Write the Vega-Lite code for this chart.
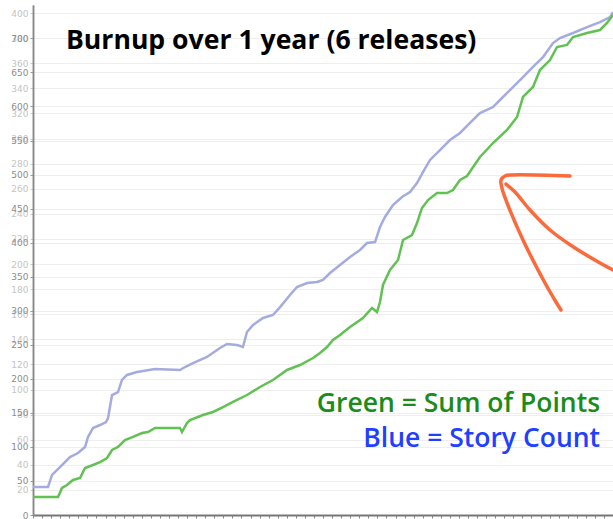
{
  "$schema": "https://vega.github.io/schema/vega-lite/v6.json",
  "width": 580,
  "height": 510,
  "autosize": {"type": "none"},
  "padding": {"left": 33, "top": 5, "right": 0, "bottom": 4},
  "background": "white",
  "config": {"view": {"stroke": null}},
  "datasets": {
    "blue": [
      {"week": 0, "stories": 22.3}, {"week": 1.66, "stories": 22.3}, {"week": 2.1, "stories": 31.9}, {"week": 2.98, "stories": 38.2},
      {"week": 4.08, "stories": 46.2}, {"week": 4.97, "stories": 49.4}, {"week": 5.74, "stories": 54.2}, {"week": 6.07, "stories": 62.2},
      {"week": 6.62, "stories": 69.3}, {"week": 7.39, "stories": 71.7}, {"week": 8.06, "stories": 74.1}, {"week": 8.28, "stories": 77.3},
      {"week": 8.72, "stories": 95.6}, {"week": 9.38, "stories": 98.0}, {"week": 9.82, "stories": 107.6}, {"week": 10.37, "stories": 111.6},
      {"week": 11.48, "stories": 113.9}, {"week": 13.46, "stories": 116.3}, {"week": 16.22, "stories": 115.5}, {"week": 16.77, "stories": 117.9},
      {"week": 17.66, "stories": 121.1}, {"week": 19.2, "stories": 125.9}, {"week": 20.63, "stories": 133.1}, {"week": 21.41, "stories": 136.3},
      {"week": 22.51, "stories": 135.5}, {"week": 23.17, "stories": 133.9}, {"week": 23.61, "stories": 145.8}, {"week": 24.28, "stories": 151.4},
      {"week": 25.38, "stories": 157.0}, {"week": 26.48, "stories": 159.4}, {"week": 27.26, "stories": 165.7}, {"week": 28.36, "stories": 175.3},
      {"week": 29.13, "stories": 181.7}, {"week": 30.24, "stories": 184.9}, {"week": 31.34, "stories": 185.7}, {"week": 32.0, "stories": 187.3},
      {"week": 32.77, "stories": 192.8}, {"week": 33.88, "stories": 199.2}, {"week": 34.98, "stories": 205.6}, {"week": 36.08, "stories": 211.2},
      {"week": 36.86, "stories": 216.7}, {"week": 37.74, "stories": 217.5}, {"week": 38.29, "stories": 229.5}, {"week": 38.84, "stories": 237.5},
      {"week": 39.72, "stories": 247.0}, {"week": 40.72, "stories": 253.4}, {"week": 41.6, "stories": 257.4}, {"week": 42.37, "stories": 264.5},
      {"week": 43.03, "stories": 273.3}, {"week": 43.81, "stories": 282.9}, {"week": 44.91, "stories": 290.8}, {"week": 46.01, "stories": 298.8},
      {"week": 47.12, "stories": 304.4}, {"week": 48.22, "stories": 312.4}, {"week": 49.32, "stories": 320.3}, {"week": 50.76, "stories": 325.1},
      {"week": 51.53, "stories": 330.7}, {"week": 52.63, "stories": 338.6}, {"week": 54.07, "stories": 349.0}, {"week": 55.17, "stories": 357.0},
      {"week": 56.28, "stories": 364.9}, {"week": 57.38, "stories": 376.1}, {"week": 58.15, "stories": 380.1}, {"week": 59.59, "stories": 384.1},
      {"week": 61.13, "stories": 388.8}, {"week": 62.57, "stories": 392.8}, {"week": 63.67, "stories": 396.8}, {"week": 64.0, "stories": 400.8}
    ],
    "green": [
      {"week": 0, "points": 26.4}, {"week": 2.76, "points": 26.4}, {"week": 3.2, "points": 39.7}, {"week": 3.75, "points": 44.1},
      {"week": 4.41, "points": 51.4}, {"week": 5.19, "points": 54.3}, {"week": 5.74, "points": 69.0}, {"week": 6.62, "points": 73.4},
      {"week": 7.39, "points": 77.8}, {"week": 8.17, "points": 83.7}, {"week": 8.72, "points": 95.5}, {"week": 9.38, "points": 99.9},
      {"week": 10.15, "points": 110.1}, {"week": 11.03, "points": 114.6}, {"week": 12.03, "points": 120.4}, {"week": 12.69, "points": 121.9},
      {"week": 13.46, "points": 127.8}, {"week": 16.22, "points": 127.8}, {"week": 16.44, "points": 121.9}, {"week": 16.99, "points": 135.1},
      {"week": 17.32, "points": 139.5}, {"week": 18.76, "points": 146.9}, {"week": 19.86, "points": 151.3}, {"week": 20.97, "points": 158.6},
      {"week": 22.07, "points": 166.0}, {"week": 23.61, "points": 176.2}, {"week": 25.05, "points": 188.0}, {"week": 26.48, "points": 198.3},
      {"week": 28.03, "points": 213.0}, {"week": 29.46, "points": 220.3}, {"week": 30.9, "points": 230.6}, {"week": 31.67, "points": 237.9},
      {"week": 32.44, "points": 246.7}, {"week": 33.1, "points": 257.0}, {"week": 33.88, "points": 264.4}, {"week": 34.98, "points": 276.1},
      {"week": 36.41, "points": 289.3}, {"week": 37.41, "points": 304.0}, {"week": 37.96, "points": 298.1}, {"week": 38.29, "points": 312.8},
      {"week": 38.62, "points": 337.8}, {"week": 39.39, "points": 359.8}, {"week": 40.28, "points": 374.5}, {"week": 40.83, "points": 403.9},
      {"week": 41.82, "points": 411.2}, {"week": 42.37, "points": 428.8}, {"week": 42.92, "points": 450.9}, {"week": 43.59, "points": 462.6},
      {"week": 44.58, "points": 472.9}, {"week": 45.68, "points": 472.9}, {"week": 46.34, "points": 477.3}, {"week": 47.12, "points": 492.0},
      {"week": 47.89, "points": 497.9}, {"week": 49.32, "points": 525.8}, {"week": 50.76, "points": 546.3}, {"week": 52.3, "points": 565.4},
      {"week": 53.41, "points": 584.5}, {"week": 54.07, "points": 613.9}, {"week": 55.17, "points": 628.6}, {"week": 55.94, "points": 653.5},
      {"week": 57.05, "points": 668.2}, {"week": 57.82, "points": 687.3}, {"week": 58.92, "points": 690.3}, {"week": 59.59, "points": 702.0},
      {"week": 61.13, "points": 707.9}, {"week": 62.57, "points": 712.3}, {"week": 63.34, "points": 722.6}, {"week": 64.0, "points": 734.3}
    ],
    "bands": [
      {"lo": 20, "hi": 40}, {"lo": 60, "hi": 80}, {"lo": 100, "hi": 120}, {"lo": 140, "hi": 160}, {"lo": 180, "hi": 200},
      {"lo": 220, "hi": 240}, {"lo": 260, "hi": 280}, {"lo": 300, "hi": 320}, {"lo": 340, "hi": 360}, {"lo": 380, "hi": 400}
    ],
    "arrow": [
      {"stroke": "a", "i": 0, "week": 59.26, "points": 497.9},
      {"stroke": "a", "i": 1, "week": 52.86, "points": 499.3},
      {"stroke": "a", "i": 2, "week": 52.08, "points": 497.9},
      {"stroke": "a", "i": 3, "week": 51.64, "points": 492.0},
      {"stroke": "a", "i": 4, "week": 51.75, "points": 480.2},
      {"stroke": "a", "i": 5, "week": 52.19, "points": 462.6},
      {"stroke": "a", "i": 6, "week": 54.07, "points": 403.9},
      {"stroke": "a", "i": 7, "week": 56.5, "points": 340.7},
      {"stroke": "a", "i": 8, "week": 57.71, "points": 312.8},
      {"stroke": "a", "i": 9, "week": 58.26, "points": 301.1},
      {"stroke": "b", "i": 0, "week": 52.19, "points": 486.1},
      {"stroke": "b", "i": 1, "week": 53.19, "points": 474.4},
      {"stroke": "b", "i": 2, "week": 54.84, "points": 447.9},
      {"stroke": "b", "i": 3, "week": 57.05, "points": 418.6},
      {"stroke": "b", "i": 4, "week": 59.81, "points": 392.1},
      {"stroke": "b", "i": 5, "week": 62.57, "points": 370.1},
      {"stroke": "b", "i": 6, "week": 64.0, "points": 359.8}
    ],
    "labels": [
      {"text": "Burnup over 1 year (6 releases)", "kind": "title", "week": 3.64, "points": 696},
      {"text": "Green = Sum of Points", "kind": "green", "week": 62.57, "points": 163},
      {"text": "Blue = Story Count", "kind": "blue", "week": 62.57, "points": 111.6}
    ]
  },
  "encoding": {
    "x": {
      "field": "week", "type": "quantitative",
      "scale": {"domain": [0, 64], "nice": false},
      "axis": {"values": [0,1,2,3,4,5,6,7,8,9,10,11,12,13,14,15,16,17,18,19,20,21,22,23,24,25,26,27,28,29,30,31,32,33,34,35,36,37,38,39,40,41,42,43,44,45,46,47,48,49,50,51,52,53,54,55,56,57,58,59,60,61,62,63,64],
        "labels": false, "title": null, "grid": false, "tickSize": 3, "tickColor": "#888", "domainColor": "#777", "domainWidth": 2}
    }
  },
  "layer": [
    {
      "encoding": {
        "y": {
          "field": "stories", "type": "quantitative",
          "scale": {"domain": [0, 406.4], "nice": false},
          "axis": {"orient": "left", "values": [20,40,60,80,100,120,140,160,180,200,220,240,260,280,300,320,340,360,380,400],
            "title": null, "labelColor": "#c4c4c4", "labelFontSize": 9, "labelFont": "DejaVu Sans", "tickSize": 3, "tickColor": "#ccc",
            "domainColor": "#888", "domainWidth": 1.5, "grid": true, "gridColor": "#eeeeee", "labelPadding": 2}
        }
      },
      "layer": [
        {
          "data": {"name": "bands"},
          "mark": {"type": "rect", "color": "#f2f2f2"},
          "encoding": {"y": {"field": "lo", "type": "quantitative"}, "y2": {"field": "hi"}}
        },
        {
          "data": {"name": "blue"},
          "mark": {"type": "line", "color": "#a4abdf", "strokeWidth": 2.5},
          "encoding": {}
        }
      ]
    },
    {
      "encoding": {
        "y": {
          "field": "points", "type": "quantitative",
          "scale": {"domain": [0, 749], "nice": false},
          "axis": {"orient": "left", "values": [0,50,100,150,200,250,300,350,400,450,500,550,600,650,700],
            "title": null, "labelColor": "#8c8c8c", "labelFontSize": 9, "labelFont": "DejaVu Sans", "tickSize": 3, "tickColor": "#999",
            "domainColor": "#888", "domainWidth": 1.5, "grid": true, "gridColor": "#eeeeee", "labelPadding": 2}
        }
      },
      "layer": [
        {
          "data": {"name": "green"},
          "mark": {"type": "line", "color": "#62c153", "strokeWidth": 2.5},
          "encoding": {}
        },
        {
          "data": {"name": "arrow"},
          "mark": {"type": "line", "color": "#fb6a3c", "strokeWidth": 3.5, "strokeCap": "round", "strokeJoin": "round", "interpolate": "catmull-rom"},
          "encoding": {"detail": {"field": "stroke"}, "order": {"field": "i", "type": "quantitative"}}
        },
        {
          "data": {"name": "labels"},
          "transform": [{"filter": "datum.kind == 'title'"}],
          "mark": {"type": "text", "align": "left", "baseline": "middle", "font": "Open Sans", "fontWeight": "bold", "fontSize": 26.6, "color": "#000"},
          "encoding": {"text": {"field": "text"}}
        },
        {
          "data": {"name": "labels"},
          "transform": [{"filter": "datum.kind != 'title'"}],
          "mark": {"type": "text", "align": "right", "baseline": "middle", "font": "Open Sans", "fontWeight": 600, "fontSize": 26.5},
          "encoding": {
            "text": {"field": "text"},
            "color": {"field": "kind", "type": "nominal", "scale": {"domain": ["green", "blue"], "range": ["#1a8c1a", "#1f40ff"]}, "legend": null}
          }
        }
      ]
    }
  ],
  "resolve": {"scale": {"y": "independent"}}
}
